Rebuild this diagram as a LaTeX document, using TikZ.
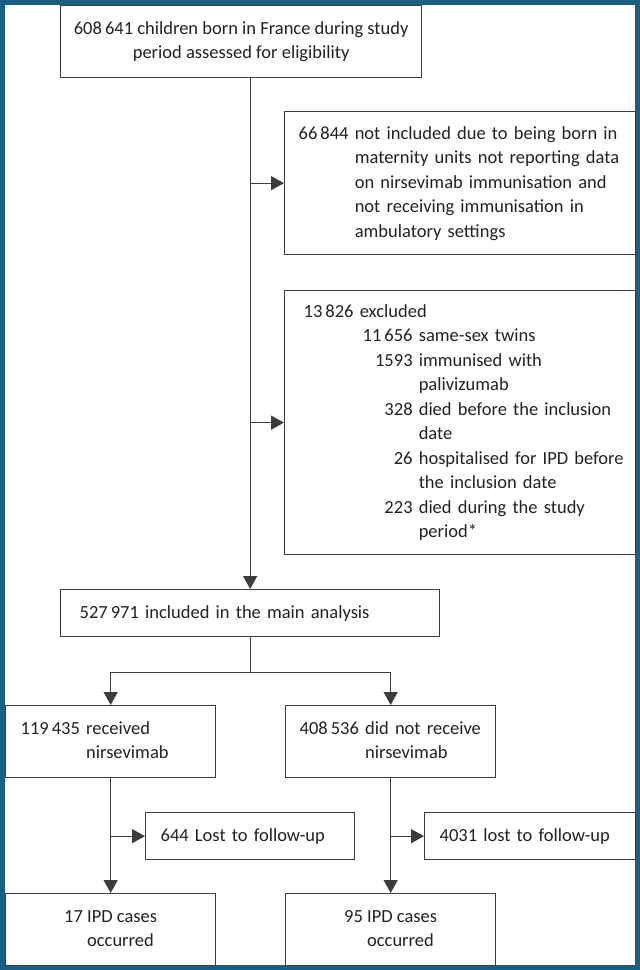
\documentclass[tikz,border=0pt]{standalone}
\usepackage{fontspec}
\setmainfont{Carlito}
\usetikzlibrary{arrows.meta}
\definecolor{framecol}{HTML}{1B5E84}
\definecolor{ink}{HTML}{3C3C3C}
\definecolor{txt}{HTML}{222222}
\begin{document}
\begin{tikzpicture}[x=1bp,y=-1bp,
  box/.style={draw=ink, line width=1.3bp, rectangle, anchor=north west,
    inner ysep=0pt, text=txt, font=\fontsize{18.5bp}{24.5bp}\selectfont},
  arr/.style={draw=ink, line width=1.3bp, -{Triangle[length=13bp,width=14bp]}},
  link/.style={draw=ink, line width=1.3bp}]
\useasboundingbox (0,0) rectangle (640,970);
\draw[framecol, line width=4.6bp] (2.3,2.3) rectangle (637.7,967.7);

\node[box, minimum height=72bp, minimum width=361bp, inner xsep=0pt, align=center] (b1) at (60,5)
  {608\,641 children born in France during study\\period assessed for eligibility};

\node[box, minimum height=143bp, text width=323bp, inner xsep=14bp, align=left] (b2) at (284,111)
  {\begin{tabular}{@{}r@{\ }l@{}}
   66\,844 & not included due to being born in\\
   & maternity units not reporting data\\
   & on nirsevimab immunisation and\\
   & not receiving immunisation in\\
   & ambulatory settings
   \end{tabular}};

\node[box, minimum height=264bp, text width=313bp, inner xsep=19bp, align=left] (b3) at (284,290)
  {\begin{tabular}{@{}l@{}r@{\ }l@{}}
   \multicolumn{3}{@{}l@{}}{13\,826 excluded}\\
   \hspace*{59bp} & 11\,656 & same-sex twins\\
   & 1593 & immunised with\\
   & & palivizumab\\
   & 328 & died before the inclusion\\
   & & date\\
   & 26 & hospitalised for IPD before\\
   & & the inclusion date\\
   & 223 & died during the study\\
   & & period*
   \end{tabular}};

\node[box, minimum height=47bp, text width=341bp, inner xsep=19bp, align=left] (b4) at (60,589)
  {527\,971 included in the main analysis};

\node[box, minimum height=72bp, text width=180bp, inner xsep=15bp, align=left] (b5) at (5,705)
  {\begin{tabular}{@{}r@{\ }l@{}}119\,435 & received\\ & nirsevimab\end{tabular}};

\node[box, minimum height=72bp, text width=182bp, inner xsep=14bp, align=left] (b6) at (285,705)
  {\begin{tabular}{@{}r@{\ }l@{}}408\,536 & did not receive\\ & nirsevimab\end{tabular}};

\node[box, minimum height=47bp, text width=179bp, inner xsep=15bp, align=left] (l1) at (145,812)
  {644 Lost to follow-up};

\node[box, minimum height=47bp, text width=181bp, inner xsep=15bp, align=left] (l2) at (424,812)
  {4031 lost to follow-up};

\node[box, minimum height=72bp, minimum width=210bp] (b7) at (5,893)
  {\begin{tabular}{@{}r@{\ }l@{}}17 & IPD cases\\ & occurred\end{tabular}};

\node[box, minimum height=72bp, minimum width=210bp] (b8) at (285,893)
  {\begin{tabular}{@{}r@{\ }l@{}}95 & IPD cases\\ & occurred\end{tabular}};

% connectors
\draw[arr] (b1.south -| b4.north) -- (b4.north);
\draw[arr] (b2.west -| b4.north) -- (b2.west);
\draw[arr] (b3.west -| b4.north) -- (b3.west);
\path (b4.south) ++(0,35) coordinate (split);
\draw[link] (b4.south) -- (split);
\draw[arr] (split) -| (b5.north);
\draw[arr] (split) -| (b6.north);
\draw[arr] (b5.south) -- (b7.north);
\draw[arr] (b6.south) -- (b8.north);
\draw[arr] (l1.west -| b5.south) -- (l1.west);
\draw[arr] (l2.west -| b6.south) -- (l2.west);
\end{tikzpicture}
\end{document}
